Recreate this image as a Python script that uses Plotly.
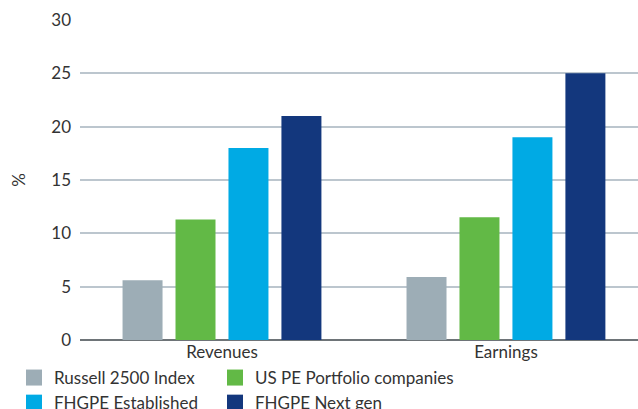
import plotly.graph_objects as go

categories = ["Revenues", "Earnings"]
series_names = ["Russell 2500 Index", "US PE Portfolio companies", "FHGPE Established", "FHGPE Next gen"]
russell = [5.6, 5.9]
us_pe = [11.3, 11.5]
fhgpe_est = [18.0, 19.0]
fhgpe_next = [21.0, 25.0]
y_ticks = [0, 5, 10, 15, 20, 25, 30]

colors = ["#9DADB6", "#62B946", "#00AAE4", "#13377D"]
legend_ids = ["legend", "legend2", "legend", "legend2"]
values = [russell, us_pe, fhgpe_est, fhgpe_next]

fig = go.Figure()
for name, vals, col in zip(series_names, values, colors):
    fig.add_trace(go.Bar(x=categories, y=vals, name=name, marker_color=col,
                         marker_line_width=0, showlegend=False))
for name, col, lg in zip(series_names, colors, legend_ids):
    fig.add_trace(go.Scatter(x=[None], y=[None], mode="markers", name=name,
                             legend=lg, showlegend=True,
                             marker=dict(symbol="square", size=16, color=col)))

font = "Lato, 'Open Sans', sans-serif"
leg_common = dict(orientation="v", xref="paper", yref="paper",
                  y=-0.0625, xanchor="left", yanchor="top",
                  bgcolor="rgba(0,0,0,0)", tracegroupgap=0,
                  font=dict(size=17, color="#333333"), traceorder="normal",
                  itemclick=False)
fig.update_layout(
    width=638, height=409,
    margin=dict(l=80, r=0, t=20, b=69, autoexpand=False),
    paper_bgcolor="white", plot_bgcolor="white",
    font=dict(family=font, size=17, color="#333333"),
    barmode="group", bargap=0.254, bargroupgap=0.245,
    showlegend=True,
    legend=dict(x=(14 - 80) / 558, **leg_common),
    legend2=dict(x=(215 - 80) / 558, **leg_common),
    xaxis=dict(range=[-0.5, 1.465], showgrid=False, showline=False, ticks="",
               automargin=False, tickfont=dict(size=17, color="#333333")),
    yaxis=dict(range=[0, 30], tickvals=y_ticks, showgrid=True, gridcolor="#BCC6CE",
               gridwidth=2, zeroline=True, zerolinecolor="#6E7478", zerolinewidth=2,
               ticks="", ticklabelstandoff=8, automargin=False,
               tickfont=dict(size=17, color="#333333"),
               title=dict(text="%", font=dict(size=17, color="#333333"), standoff=21)),
)
fig.write_html("out.html", config={"displayModeBar": False},
               post_script="document.body.style.margin='0';document.body.style.overflow='hidden';")
